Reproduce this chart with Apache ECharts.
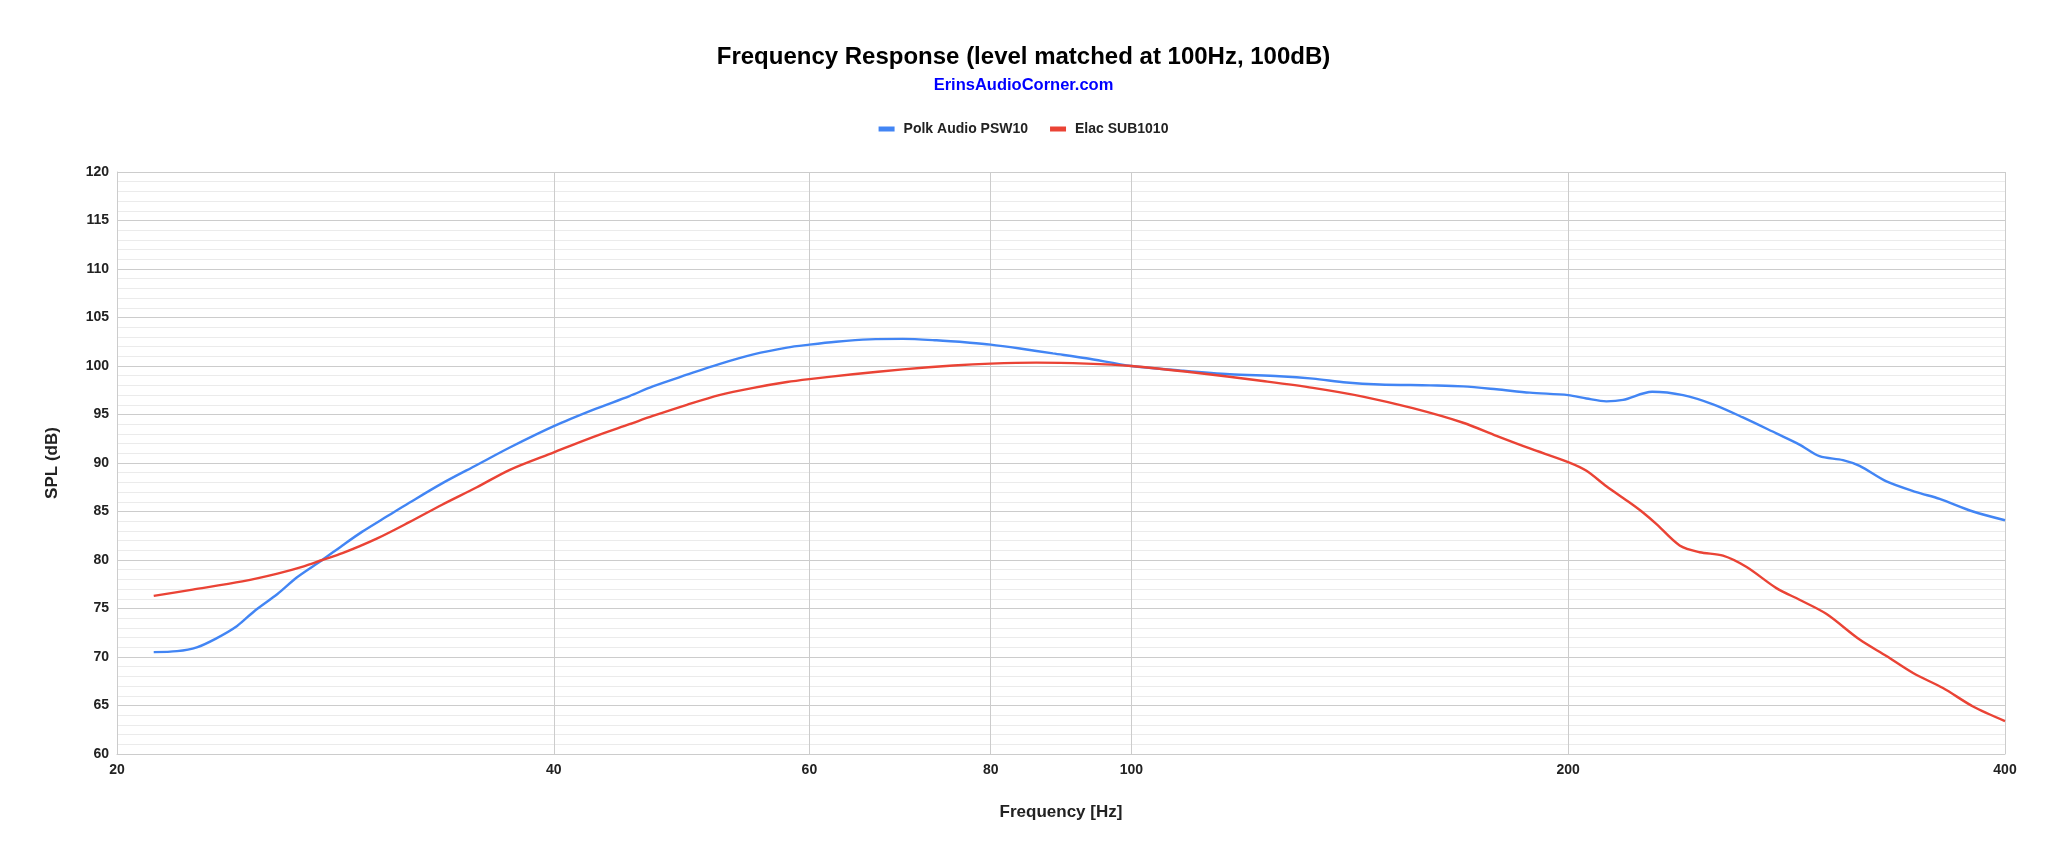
<!DOCTYPE html>
<html>
<head>
<meta charset="utf-8">
<title>Frequency Response</title>
<script src="https://cdn.jsdelivr.net/npm/echarts@6/dist/echarts.min.js"></script>
<style>
  html, body { margin: 0; padding: 0; background: #fff; }
  #chart { width: 2047px; height: 862px; }
</style>
</head>
<body>
<div id="chart"></div>
<script>
// x axis ticks (Hz)
const freqTicks = [20, 40, 60, 80, 100, 200, 400];

// Polk Audio PSW10
const polkFreq = [21.2, 22.0, 22.7, 23.4, 24.2, 24.9, 25.8, 26.6, 27.7, 28.6, 29.5, 30.7, 31.8, 33.5, 35.4, 37.3,
  40, 42.6, 45.1, 46.8, 49.4, 52.0, 54.9, 57.9, 60, 62.6, 66, 69.6, 73.4, 77.4, 80, 83.8, 88.3, 93.1,
  100, 107.9, 116.9, 126.5, 133.4, 140.7, 148.3, 160.6, 169.3, 178.5, 188.2, 200, 205.9, 212.5, 218.2,
  228.5, 240, 251.7, 263.9, 278.3, 288.7, 298, 309.3, 317.6, 331.4, 347.5, 360.6, 380.2, 400];
const polkSpl = [70.5, 70.6, 71.0, 71.9, 73.2, 74.8, 76.5, 78.2, 80.0, 81.5, 82.9, 84.5, 85.9, 87.9, 89.8, 91.6,
  93.8, 95.5, 96.9, 97.9, 99.1, 100.2, 101.2, 101.9, 102.2, 102.5, 102.75, 102.8, 102.65, 102.4, 102.2, 101.8, 101.3, 100.8,
  100.0, 99.55, 99.15, 98.95, 98.7, 98.3, 98.1, 98.0, 97.9, 97.6, 97.25, 97.0, 96.65, 96.35, 96.5,
  97.35, 97.0, 96.05, 94.7, 93.05, 91.9, 90.7, 90.3, 89.7, 88.1, 87.0, 86.3, 85.0, 84.1];

// Elac SUB1010
const elacFreq = [21.2, 22.55, 24.4, 25.8, 26.9, 27.7, 28.6, 30.2, 31.8, 33.5, 35.4, 37.3, 40, 42.6, 45.1, 46.8,
  49.4, 52.0, 54.9, 57.9, 60, 64.3, 69.6, 75.4, 80, 86, 93.1, 100, 110.8, 123.2, 133.4, 144.4, 156.3,
  169.3, 178.5, 188.2, 200, 205.9, 212.5, 220.6, 225.2, 230.1, 238.7, 246.4, 255.7, 265.3, 278.3,
  288.7, 301.2, 317.6, 331.4, 345.7, 362.5, 380.2, 400];
const elacSpl = [76.3, 76.95, 77.8, 78.6, 79.35, 80.0, 80.7, 82.2, 83.9, 85.7, 87.5, 89.3, 91.1, 92.7, 94.0, 94.85,
  96.0, 97.0, 97.75, 98.35, 98.65, 99.15, 99.65, 100.05, 100.25, 100.35, 100.25, 100.0, 99.3, 98.45, 97.75, 96.85, 95.65,
  94.15, 92.8, 91.5, 90.1, 89.2, 87.6, 85.9, 84.9, 83.7, 81.5, 80.8, 80.45, 79.3, 77.1,
  75.9, 74.45, 71.8, 70.1, 68.35, 66.8, 64.9, 63.4];

const font = '"Liberation Sans", Arial, sans-serif';
const zip = (xs, ys) => xs.map((x, i) => [x, ys[i]]);

const chart = echarts.init(document.getElementById('chart'));
chart.setOption({
  backgroundColor: '#fff',
  animation: false,
  title: [
    {
      text: 'Frequency Response (level matched at 100Hz, 100dB)',
      left: 'center',
      top: 45,
      padding: 0,
      textStyle: { fontFamily: font, fontSize: 24, fontWeight: 'bold', color: '#000' }
    },
    {
      text: 'ErinsAudioCorner.com',
      left: 'center',
      top: 77,
      padding: 0,
      textStyle: { fontFamily: font, fontSize: 16.5, fontWeight: 'bold', color: '#0000ff' }
    }
  ],
  legend: {
    top: 117,
    left: 'center',
    icon: 'rect',
    itemWidth: 16,
    itemHeight: 5,
    itemGap: 22,
    textStyle: { fontFamily: font, fontSize: 14, fontWeight: 'bold', color: '#222', padding: [0, 0, 0, 4] },
    data: ['Polk Audio PSW10', 'Elac SUB1010']
  },
  grid: { left: 117, right: 42, top: 172, bottom: 108, containLabel: false },
  xAxis: {
    type: 'log',
    logBase: 10,
    min: 20,
    max: 400,
    name: 'Frequency [Hz]',
    nameLocation: 'middle',
    nameGap: 50,
    nameTextStyle: { fontFamily: font, fontSize: 17, fontWeight: 'bold', color: '#222' },
    axisLine: { show: true, lineStyle: { color: '#ccc', width: 1 } },
    axisTick: { show: false, customValues: freqTicks },
    axisLabel: {
      customValues: freqTicks,
      margin: 9,
      fontFamily: font, fontSize: 14, fontWeight: 'bold', color: '#222'
    },
    splitLine: { show: true, lineStyle: { color: '#ccc', width: 1 } },
    minorSplitLine: { show: false }
  },
  yAxis: {
    type: 'value',
    min: 60,
    max: 120,
    interval: 5,
    name: 'SPL (dB)',
    nameLocation: 'middle',
    nameGap: 56,
    nameTextStyle: { fontFamily: font, fontSize: 17, fontWeight: 'bold', color: '#222' },
    axisLine: { show: true, lineStyle: { color: '#ccc', width: 1 } },
    axisTick: { show: false },
    axisLabel: { margin: 8, fontFamily: font, fontSize: 14, fontWeight: 'bold', color: '#222' },
    splitLine: { show: true, lineStyle: { color: '#ccc', width: 1 } },
    minorTick: { show: false, splitNumber: 5 },
    minorSplitLine: { show: true, lineStyle: { color: '#ebebeb', width: 1 } }
  },
  series: [
    {
      name: 'Polk Audio PSW10',
      type: 'line',
      smooth: 0.3,
      showSymbol: false,
      color: '#4285F4',
      lineStyle: { width: 2.4, color: '#4285F4' },
      data: zip(polkFreq, polkSpl)
    },
    {
      name: 'Elac SUB1010',
      type: 'line',
      smooth: 0.3,
      showSymbol: false,
      color: '#EA4335',
      lineStyle: { width: 2.4, color: '#EA4335' },
      data: zip(elacFreq, elacSpl)
    }
  ]
});
</script>
</body>
</html>
